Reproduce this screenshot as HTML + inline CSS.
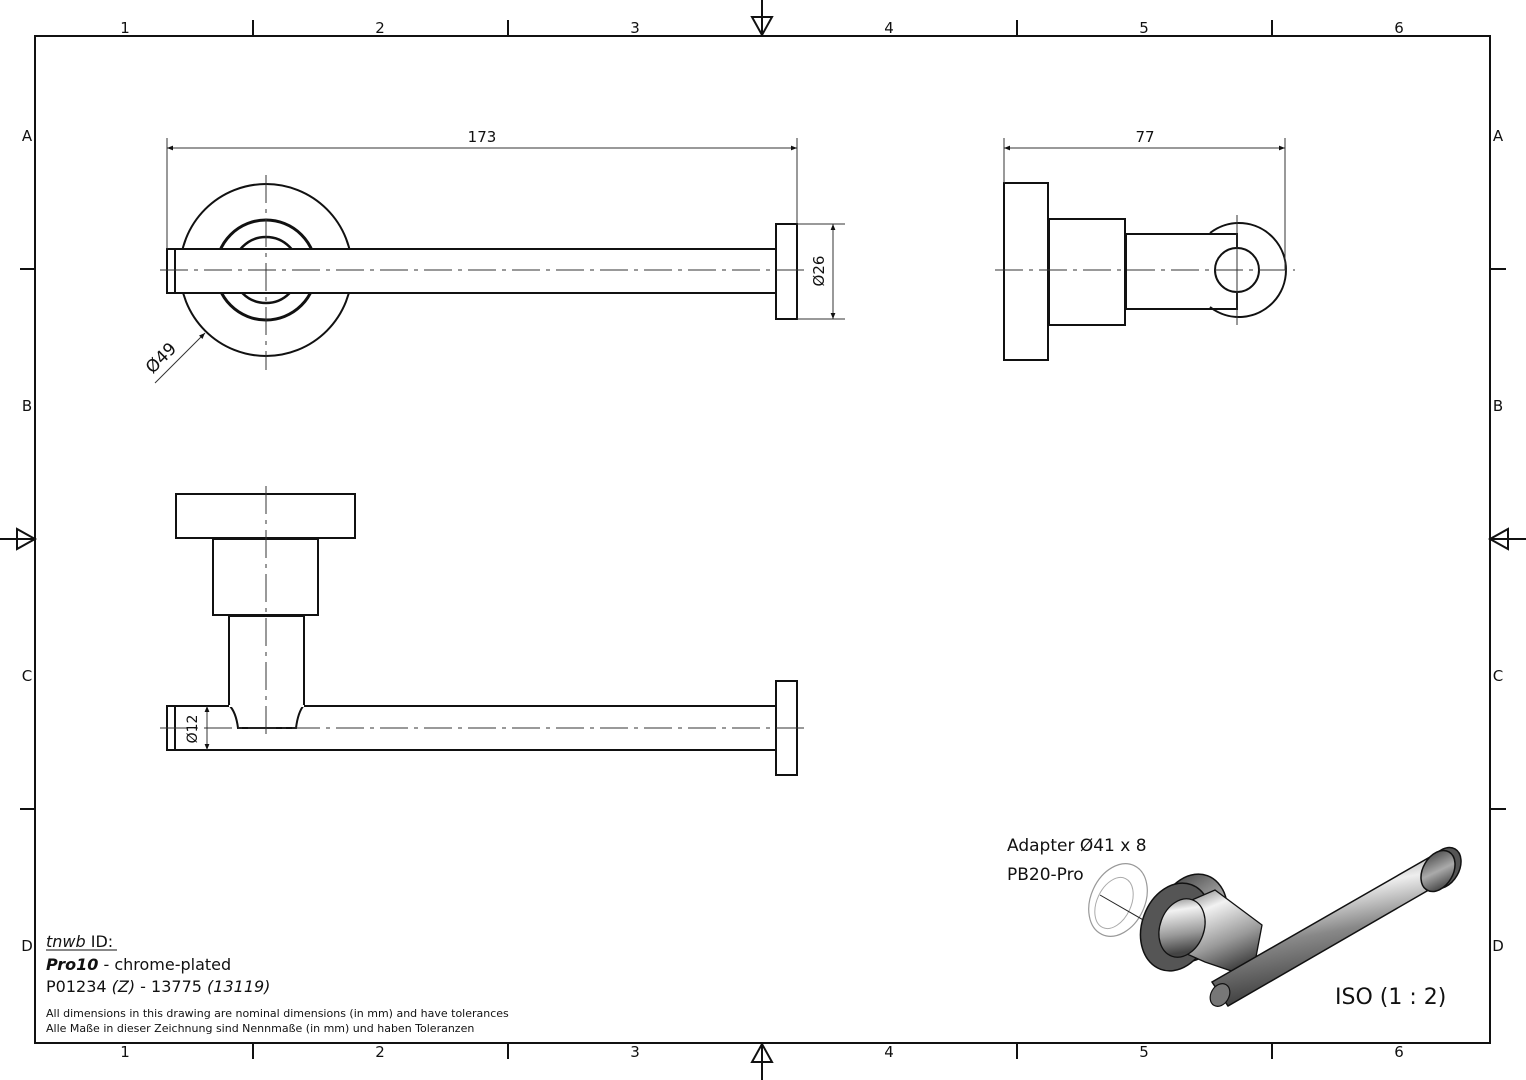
<!DOCTYPE html>
<html><head><meta charset="utf-8"><style>
html,body{margin:0;padding:0;background:#fff;}
svg{display:block;}
text{font-family:"DejaVu Sans","Liberation Sans",sans-serif;fill:#111;}
</style></head><body>
<svg width="1526" height="1080" viewBox="0 0 1526 1080" xmlns="http://www.w3.org/2000/svg">
<defs>
<marker id="ar" viewBox="0 0 10 10" refX="10" refY="5" markerWidth="10" markerHeight="6" orient="auto-start-reverse" markerUnits="userSpaceOnUse"><path d="M0,1 L10,5 L0,9z" fill="#111"/></marker>
<linearGradient id="g1" x1="0" y1="0" x2="0.3" y2="1"><stop offset="0" stop-color="#555"/><stop offset="0.35" stop-color="#eee"/><stop offset="0.6" stop-color="#888"/><stop offset="1" stop-color="#333"/></linearGradient>
<linearGradient id="g2" x1="0" y1="0" x2="1" y2="1"><stop offset="0" stop-color="#333"/><stop offset="0.5" stop-color="#aaa"/><stop offset="1" stop-color="#222"/></linearGradient>
<linearGradient id="g3" x1="0" y1="0" x2="0.4" y2="1"><stop offset="0" stop-color="#666"/><stop offset="0.3" stop-color="#f2f2f2"/><stop offset="0.7" stop-color="#999"/><stop offset="1" stop-color="#444"/></linearGradient>
</defs>
<!-- frame -->
<rect x="35" y="36" width="1455" height="1007" fill="none" stroke="#111" stroke-width="2"/>
<g stroke="#111" stroke-width="2">
<line x1="253" y1="20" x2="253" y2="36"/><line x1="508" y1="20" x2="508" y2="36"/><line x1="1017" y1="20" x2="1017" y2="36"/><line x1="1272" y1="20" x2="1272" y2="36"/>
<line x1="253" y1="1043" x2="253" y2="1059"/><line x1="508" y1="1043" x2="508" y2="1059"/><line x1="1017" y1="1043" x2="1017" y2="1059"/><line x1="1272" y1="1043" x2="1272" y2="1059"/>
<line x1="20" y1="269" x2="35" y2="269"/><line x1="20" y1="809" x2="35" y2="809"/>
<line x1="1490" y1="269" x2="1506" y2="269"/><line x1="1490" y1="809" x2="1506" y2="809"/>
<line x1="762" y1="0" x2="762" y2="36"/><path d="M752,17 L772,17 L762,35z" fill="none"/>
<line x1="762" y1="1043" x2="762" y2="1080"/><path d="M752,1062 L772,1062 L762,1044z" fill="none"/>
<line x1="0" y1="539" x2="35" y2="539"/><path d="M17,529 L17,549 L35,539z" fill="none"/>
<line x1="1490" y1="539" x2="1526" y2="539"/><path d="M1508,529 L1508,549 L1490,539z" fill="none"/>
</g>
<g font-size="15" text-anchor="middle">
<text x="125" y="33">1</text><text x="380" y="33">2</text><text x="635" y="33">3</text><text x="889" y="33">4</text><text x="1144" y="33">5</text><text x="1399" y="33">6</text>
<text x="125" y="1057">1</text><text x="380" y="1057">2</text><text x="635" y="1057">3</text><text x="889" y="1057">4</text><text x="1144" y="1057">5</text><text x="1399" y="1057">6</text>
<text x="27" y="141">A</text><text x="27" y="411">B</text><text x="27" y="681">C</text><text x="27" y="951">D</text>
<text x="1498" y="141">A</text><text x="1498" y="411">B</text><text x="1498" y="681">C</text><text x="1498" y="951">D</text>
</g>

<!-- top view -->
<g fill="none" stroke="#111" stroke-width="2">
<circle cx="266" cy="270" r="86"/>
<circle cx="266" cy="270" r="50" stroke-width="3"/>
<circle cx="266" cy="270" r="33" stroke-width="2.5"/>
</g>
<rect x="175" y="249" width="601" height="44" fill="#fff" stroke="#111" stroke-width="2"/>
<rect x="167" y="249" width="8" height="44" fill="#fff" stroke="#111" stroke-width="2"/>
<rect x="776" y="224" width="21" height="95" fill="#fff" stroke="#111" stroke-width="2"/>
<g stroke="#333" stroke-width="1" stroke-dasharray="28,6,4,6">
<line x1="160" y1="270" x2="805" y2="270"/>
<line x1="266" y1="175" x2="266" y2="370"/>
</g>
<g stroke="#333" stroke-width="1" fill="none">
<line x1="167" y1="138" x2="167" y2="249"/><line x1="797" y1="138" x2="797" y2="224"/>
<line x1="167" y1="148" x2="797" y2="148" marker-start="url(#ar)" marker-end="url(#ar)"/>
<line x1="797" y1="224" x2="845" y2="224"/><line x1="797" y1="319" x2="845" y2="319"/>
<line x1="833" y1="224" x2="833" y2="319" marker-start="url(#ar)" marker-end="url(#ar)"/>
<line x1="155" y1="383" x2="205" y2="333" marker-end="url(#ar)"/>
</g>
<text x="482" y="142" font-size="15" text-anchor="middle">173</text>
<text transform="translate(824,271) rotate(-90)" font-size="15" text-anchor="middle">Ø26</text>
<text transform="translate(165,362) rotate(-45)" font-size="17" text-anchor="middle">Ø49</text>

<!-- side view -->
<g fill="none" stroke="#111" stroke-width="2">
<path d="M1210,233 A47,47 0 1 1 1210,307"/>
<rect x="1004" y="183" width="44" height="177"/>
<rect x="1049" y="219" width="76" height="106"/>
<path d="M1126,234 L1237,234 L1237,309 L1126,309z"/>
<circle cx="1237" cy="270" r="22" fill="#fff"/>
</g>
<g stroke="#333" stroke-width="1" stroke-dasharray="28,6,4,6">
<line x1="995" y1="270" x2="1295" y2="270"/>
</g>
<g stroke="#333" stroke-width="1" fill="none">
<line x1="1237" y1="215" x2="1237" y2="325"/>
<line x1="1004" y1="138" x2="1004" y2="183"/><line x1="1285" y1="138" x2="1285" y2="270"/>
<line x1="1004" y1="148" x2="1285" y2="148" marker-start="url(#ar)" marker-end="url(#ar)"/>
</g>
<text x="1145" y="142" font-size="15" text-anchor="middle">77</text>

<!-- front view -->
<g fill="#fff" stroke="#111" stroke-width="2">
<rect x="176" y="494" width="179" height="44"/>
<rect x="213" y="539" width="105" height="76"/>
<rect x="167" y="706" width="609" height="44"/>
<line x1="175" y1="706" x2="175" y2="750"/>
<rect x="776" y="681" width="21" height="94"/>
</g>
<path d="M229,616 L229,705 Q236,712 238,728 L296,728 Q298,712 304,705 L304,616z" fill="#fff" stroke="#111" stroke-width="2"/>
<line x1="229" y1="706" x2="304" y2="706" stroke="#fff" stroke-width="2"/>
<g stroke="#333" stroke-width="1" stroke-dasharray="28,6,4,6">
<line x1="160" y1="728" x2="805" y2="728"/>
<line x1="266" y1="486" x2="266" y2="740"/>
</g>
<line x1="207" y1="706" x2="207" y2="750" stroke="#333" stroke-width="1" marker-start="url(#ar)" marker-end="url(#ar)"/>
<text transform="translate(197,729) rotate(-90)" font-size="14" text-anchor="middle">Ø12</text>

<!-- iso view -->
<ellipse cx="1118" cy="900" rx="27" ry="38" transform="rotate(25 1118 900)" fill="none" stroke="#999" stroke-width="1.2"/>
<ellipse cx="1114" cy="903" rx="17" ry="27" transform="rotate(25 1114 903)" fill="none" stroke="#aaa" stroke-width="1"/>
<line x1="1100" y1="895" x2="1230" y2="970" stroke="#222" stroke-width="1"/>
<!-- base disc (side band then face) -->
<ellipse cx="1192" cy="918" rx="34" ry="45" transform="rotate(20 1192 918)" fill="url(#g2)" stroke="#111" stroke-width="1.5"/>
<ellipse cx="1176" cy="927" rx="34" ry="45" transform="rotate(20 1176 927)" fill="#555" stroke="#111" stroke-width="1.5"/>
<!-- stem cylinder -->
<path d="M1178,906 L1215,890 L1262,925 L1252,978 L1205,962 L1178,950z" fill="url(#g3)" stroke="#111" stroke-width="1.3"/>
<ellipse cx="1182" cy="928" rx="22" ry="30" transform="rotate(20 1182 928)" fill="url(#g3)" stroke="#111" stroke-width="1.3"/>
<!-- rod -->
<path d="M1212,982 L1430,857 L1446,880 L1228,1006z" fill="url(#g1)" stroke="#111" stroke-width="1.5"/>
<ellipse cx="1220" cy="995" rx="9" ry="12" transform="rotate(30 1220 995)" fill="#777" stroke="#111" stroke-width="1.2"/>
<ellipse cx="1444" cy="868" rx="15" ry="22" transform="rotate(30 1444 868)" fill="#555" stroke="#111" stroke-width="1.5"/>
<ellipse cx="1438" cy="871" rx="15" ry="22" transform="rotate(30 1438 871)" fill="url(#g2)" stroke="#111" stroke-width="1.5"/>
<text x="1007" y="851" font-size="17">Adapter Ø41 x 8</text>
<text x="1007" y="880" font-size="17">PB20-Pro</text>
<text x="1335" y="1004" font-size="22">ISO (1 : 2)</text>

<!-- text block -->
<text x="46" y="947" font-size="16" font-style="italic">tnwb <tspan font-style="normal">ID:</tspan></text>
<line x1="46" y1="950" x2="117" y2="950" stroke="#111" stroke-width="1"/>
<text x="46" y="970" font-size="16"><tspan font-weight="bold" font-style="italic">Pro10</tspan> - chrome-plated</text>
<text x="46" y="992" font-size="16">P01234 <tspan font-style="italic">(Z)</tspan> - 13775 <tspan font-style="italic">(13119)</tspan></text>
<text x="46" y="1017" font-size="11">All dimensions in this drawing are nominal dimensions (in mm) and have tolerances</text>
<text x="46" y="1032" font-size="11">Alle Maße in dieser Zeichnung sind Nennmaße (in mm) und haben Toleranzen</text>
</svg>
</body></html>
